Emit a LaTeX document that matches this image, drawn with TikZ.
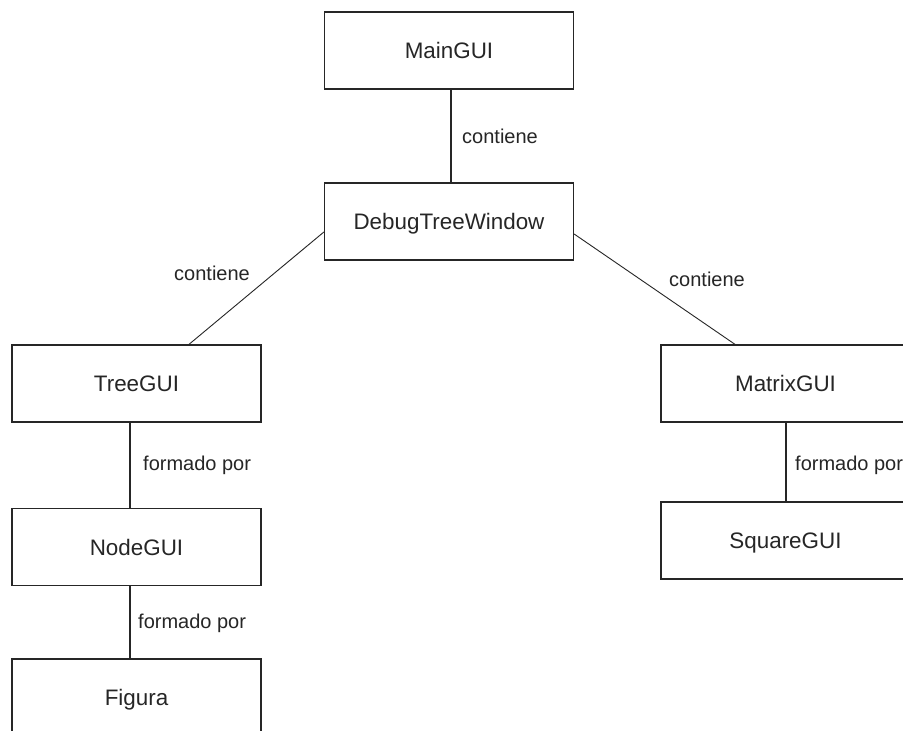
\documentclass[tikz,border=0pt]{standalone}
\usepackage{fontspec}
\setmainfont{Liberation Sans}
\begin{document}
\begin{tikzpicture}[x=1pt,y=-1pt,
  classbox/.style={draw=black!85, line width=1.3pt, minimum width=249pt, minimum height=77pt,
    inner sep=0pt, text height=16pt, text depth=0pt, text=black!85,
    font=\fontsize{22.4}{26}\selectfont},
  link/.style={draw=black!85, line width=1.2pt},
  slant/.style={draw=black!85, line width=0.9pt},
  tag/.style={anchor=west, inner sep=0pt, text=black!85, font=\fontsize{20}{24}\selectfont}]
\path[use as bounding box, clip] (0,0) rectangle (903,731);
\fill[white] (0,0) rectangle (903,731);

% class boxes
\node[classbox] (main)   at (449,50.5)   {MainGUI};
\node[classbox] (dtw)    at (449,221.5)  {DebugTreeWindow};
\node[classbox] (tree)   at (136.5,383.5) {TreeGUI};
\node[classbox] (nodeg)  at (136.5,547)  {NodeGUI};
\node[classbox] (fig)    at (136.5,697.5) {Figura};
\node[classbox] (matrix) at (785.5,383.5) {MatrixGUI};
\node[classbox] (square) at (785.5,540.5) {SquareGUI};

% connectors
\draw[link] ([xshift=2pt]main.south) -- ([xshift=2pt]dtw.north);
\draw[slant] ([yshift=-10.5pt]dtw.west) -- ([xshift=52.5pt]tree.north);
\draw[slant] ([yshift=-12.5pt]dtw.east) -- ([xshift=-50.5pt]matrix.north);
\draw[link] ([xshift=-6.5pt]tree.south) -- ([xshift=-6.5pt]nodeg.north);
\draw[link] ([xshift=-6.5pt]nodeg.south) -- ([xshift=-6.5pt]fig.north);
\draw[link] ([xshift=0.5pt]matrix.south) -- ([xshift=0.5pt]square.north);

% connector labels
\node[tag] (l1) at (462,136) {contiene};
\node[tag] (l2) at (174,273) {contiene};
\node[tag] (l3) at (669,279) {contiene};
\node[tag] (l4) at (143,465) {formado por};
\node[tag] (l5) at (138,623) {formado por};
\node[tag] (l6) at (795,465) {formado por};
\end{tikzpicture}
\end{document}
